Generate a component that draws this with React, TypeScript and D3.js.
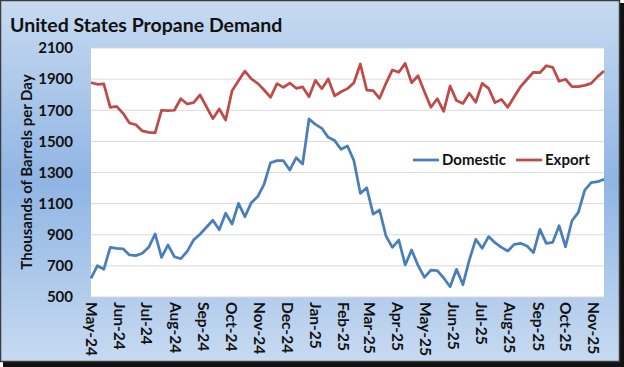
import React from "react";
import * as d3 from "d3";

const title = "United States Propane Demand";
const yTitle = "Thousands of Barrels per Day";
const seriesNames = ["Domestic", "Export"];
const seriesColors = ["#4a7ebb", "#be4b48"];
const firstWeek = "2024-05-03";
const monthLabels = [
  "May-24", "Jun-24", "Jul-24", "Aug-24", "Sep-24", "Oct-24", "Nov-24", "Dec-24",
  "Jan-25", "Feb-25", "Mar-25", "Apr-25", "May-25", "Jun-25", "Jul-25", "Aug-25",
  "Sep-25", "Oct-25", "Nov-25",
];
const yTicks = [500, 700, 900, 1100, 1300, 1500, 1700, 1900, 2100];

const domestic = [
  620, 701, 678, 819, 813, 810, 770, 766, 781, 819,
  905, 755, 834, 759, 746, 793, 866, 903, 948, 993,
  932, 1038, 969, 1102, 1016, 1106, 1145, 1226, 1363, 1376,
  1376, 1316, 1395, 1355, 1644, 1609, 1584, 1526, 1505, 1449,
  1470, 1376, 1166, 1202, 1033, 1059, 892, 819, 866, 706,
  802, 703, 626, 673, 669, 622, 566, 678, 579, 738,
  870, 813, 888, 849, 819, 796, 838, 845, 828, 785,
  935, 845, 851, 958, 823, 990, 1044, 1187, 1235, 1241,
  1256,
];
const exportVals = [
  1877, 1867, 1869, 1719, 1725, 1680, 1618, 1607, 1567, 1558,
  1554, 1700, 1697, 1700, 1774, 1740, 1749, 1798, 1723, 1646,
  1708, 1637, 1826, 1890, 1952, 1901, 1873, 1830, 1783, 1871,
  1847, 1875, 1841, 1850, 1787, 1892, 1838, 1901, 1792, 1819,
  1839, 1877, 1997, 1830, 1826, 1777, 1873, 1959, 1944, 2001,
  1877, 1922, 1819, 1719, 1774, 1693, 1856, 1762, 1744, 1809,
  1751, 1873, 1841, 1749, 1770, 1719, 1787, 1852, 1899, 1944,
  1941, 1986, 1976, 1886, 1899, 1852, 1852, 1860, 1873, 1916,
  1952,
];

const W = 624;
const H = 367;
const FONT = "Lato, 'Open Sans', sans-serif";

export default function App() {
  const start = d3.timeParse("%Y-%m-%d")(firstWeek) as Date;
  const dates = domestic.map((_, i) => d3.timeDay.offset(start, 7 * i));
  const tickDates = monthLabels.map((_, k) => d3.timeMonth.offset(start, k));

  const x = d3.scaleTime().domain([dates[0], dates[dates.length - 1]]).range([91, 604]);
  const y = d3.scaleLinear().domain([500, 2100]).range([297, 48]);

  const line = d3
    .line<number>()
    .x((_, i) => x(dates[i]))
    .y((d) => y(d));

  const series = [domestic, exportVals];

  return (
    <svg
      width={W}
      height={H}
      style={{ position: "fixed", left: 0, top: 0, display: "block" }}
      fontFamily={FONT}
    >
      <defs>
        <linearGradient id="bg" x1="0" y1="0" x2="0" y2="1">
          <stop offset="0" stopColor="#c7daf1" />
          <stop offset="0.5" stopColor="#90b5e3" />
          <stop offset="1" stopColor="#c7daf1" />
        </linearGradient>
      </defs>
      <rect x={3} y={3} width={621} height={364} fill="#111" />
      <rect x={0.5} y={0.5} width={619} height={361} fill="url(#bg)" stroke="#3c3c3c" strokeWidth={1.5} />
      <rect x={91} y={48} width={513} height={249} fill="#fff" />
      {yTicks.map((t) => (
        <line key={t} x1={91} x2={604} y1={y(t)} y2={y(t)} stroke="#d9d9d9" strokeWidth={1} />
      ))}
      <text x={10} y={32} fontSize={19.5} fontWeight={700} fill="#111">
        {title}
      </text>
      {yTicks.map((t) => (
        <text key={t} x={73} y={y(t)} dy="0.35em" textAnchor="end" fontSize={15} fontWeight={700} fill="#111">
          {t}
        </text>
      ))}
      <text
        transform={`translate(27,172) rotate(-90)`}
        textAnchor="middle"
        dy="0.35em"
        fontSize={15}
        fontWeight={700}
        fill="#111"
      >
        {yTitle}
      </text>
      {monthLabels.map((m, k) => (
        <text
          key={m}
          transform={`translate(${x(tickDates[k])},302) rotate(90)`}
          dy="0.35em"
          fontSize={15.5}
          fontWeight={700}
          fill="#111"
        >
          {m}
        </text>
      ))}
      {series.map((s, j) => (
        <path key={j} d={line(s) ?? ""} fill="none" stroke={seriesColors[j]} strokeWidth={2.75} strokeLinejoin="round" />
      ))}
      {seriesNames.map((n, j) => {
        const lx = j === 0 ? 413 : 516;
        return (
          <g key={n}>
            <line x1={lx} x2={lx + 26} y1={160} y2={160} stroke={seriesColors[j]} strokeWidth={2.75} />
            <text x={lx + 29} y={160} dy="0.35em" fontSize={15} fontWeight={700} fill="#111">
              {n}
            </text>
          </g>
        );
      })}
    </svg>
  );
}
